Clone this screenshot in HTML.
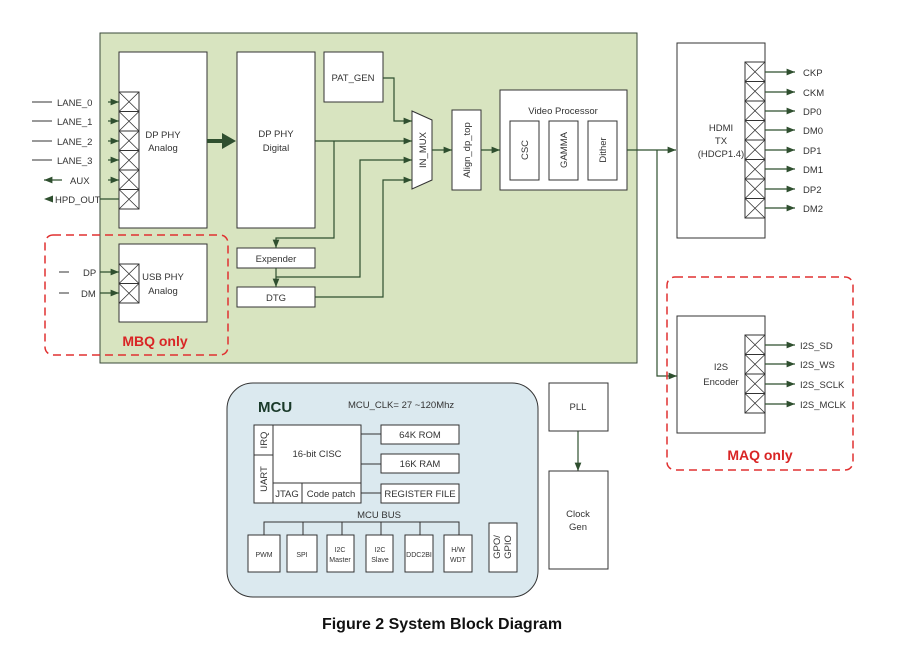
<!DOCTYPE html>
<html><head><meta charset="utf-8"><style>
html,body{margin:0;padding:0;background:#fff;}
svg{display:block;font-family:"Liberation Sans",sans-serif;}
</style></head><body>
<svg width="919" height="663" viewBox="0 0 919 663" xmlns="http://www.w3.org/2000/svg">
<defs>
<marker id="a" viewBox="0 0 10 10" refX="10" refY="5" markerWidth="7" markerHeight="7" orient="auto"><path d="M0,1 L10,5 L0,9 z" fill="#2f4f2f"/></marker>
<pattern id="x1" x="119" y="92" width="20" height="19.5" patternUnits="userSpaceOnUse"><rect width="20" height="19.5" fill="#fff" stroke="#333" stroke-width="1"/><path d="M0,0 L20,19.5 M20,0 L0,19.5" stroke="#333" stroke-width="0.8"/></pattern>
<pattern id="x2" x="119" y="264" width="20" height="19.5" patternUnits="userSpaceOnUse"><rect width="20" height="19.5" fill="#fff" stroke="#333" stroke-width="1"/><path d="M0,0 L20,19.5 M20,0 L0,19.5" stroke="#333" stroke-width="0.8"/></pattern>
<pattern id="x3" x="745" y="62" width="20" height="19.5" patternUnits="userSpaceOnUse"><rect width="20" height="19.5" fill="#fff" stroke="#333" stroke-width="1"/><path d="M0,0 L20,19.5 M20,0 L0,19.5" stroke="#333" stroke-width="0.8"/></pattern>
<pattern id="x4" x="745" y="335" width="20" height="19.5" patternUnits="userSpaceOnUse"><rect width="20" height="19.5" fill="#fff" stroke="#333" stroke-width="1"/><path d="M0,0 L20,19.5 M20,0 L0,19.5" stroke="#333" stroke-width="0.8"/></pattern>
</defs>
<g stroke="#333" stroke-width="1" fill="none">
<rect x="100" y="33" width="537" height="330" fill="#d8e4c0" stroke="#3a4a3a"/>
<rect x="119" y="52" width="88" height="176" fill="#fff"/>
<rect x="237" y="52" width="78" height="176" fill="#fff"/>
<rect x="324" y="52" width="59" height="50" fill="#fff"/>
<path d="M412,111 L432,120 L432,180 L412,189 Z" fill="#fff"/>
<rect x="452" y="110" width="29" height="80" fill="#fff"/>
<rect x="500" y="90" width="127" height="100" fill="#fff"/>
<rect x="510" y="121" width="29" height="59" fill="#fff"/>
<rect x="549" y="121" width="29" height="59" fill="#fff"/>
<rect x="588" y="121" width="29" height="59" fill="#fff"/>
<rect x="119" y="244" width="88" height="78" fill="#fff"/>
<rect x="237" y="248" width="78" height="20" fill="#fff"/>
<rect x="237" y="287" width="78" height="20" fill="#fff"/>
<rect x="677" y="43" width="88" height="195" fill="#fff"/>
<rect x="677" y="316" width="88" height="117" fill="#fff"/>
</g>
<rect x="119" y="92" width="20" height="117" fill="url(#x1)" stroke="#333"/>
<rect x="119" y="264" width="20" height="39" fill="url(#x2)" stroke="#333"/>
<rect x="745" y="62" width="20" height="156" fill="url(#x3)" stroke="#333"/>
<rect x="745" y="335" width="20" height="78" fill="url(#x4)" stroke="#333"/>
<g stroke="#2f4f2f" stroke-width="1.2" fill="none" marker-end="url(#a)">
<path d="M108,102 H119"/><path d="M108,121 H119"/><path d="M108,141 H119"/><path d="M108,160 H119"/><path d="M108,180 H119"/>
<path d="M62,180 H44"/>
<path d="M100,272 H119"/><path d="M100,293 H119"/>
<path d="M383,78 H394 V121 H412"/>
<path d="M315,141 H412"/>
<path d="M334,141 V238 H276 V248"/>
<path d="M276,268 V287"/>
<path d="M276,277 H360 V160 H412"/>
<path d="M315,297 H383 V180 H412"/>
<path d="M432,150 H452"/><path d="M481,150 H500"/>
<path d="M627,150 H676"/>
<path d="M657,150 V376 H677"/>
<path d="M765,72 H795"/><path d="M765,92 H795"/><path d="M765,111 H795"/><path d="M765,130 H795"/><path d="M765,150 H795"/><path d="M765,169 H795"/><path d="M765,189 H795"/><path d="M765,208 H795"/>
<path d="M765,345 H795"/><path d="M765,364 H795"/><path d="M765,384 H795"/><path d="M765,404 H795"/>
<path d="M578,431 V471"/>
</g>
<path d="M100,199 H119" stroke="#2f4f2f" stroke-width="1.2"/>
<path d="M44,199 L53,195.5 L53,202.5 Z" fill="#2f4f2f"/>
<path d="M207,141 H224" stroke="#2f4f2f" stroke-width="4"/>
<path d="M236,141 L222,133 L222,149 Z" fill="#2f4f2f"/>
<g stroke="#333" stroke-width="1">
<path d="M32,102 H52 M32,121 H52 M32,141 H52 M32,160 H52 M59,272 H69 M59,293 H69"/>
</g>
<g fill="none" stroke="#e03030" stroke-width="1.5" stroke-dasharray="8,5">
<rect x="45" y="235" width="183" height="120" rx="8"/>
<rect x="667" y="277" width="186" height="193" rx="8"/>
</g>
<g font-size="9.5" fill="#333">
<text x="57" y="106">LANE_0</text><text x="57" y="125">LANE_1</text><text x="57" y="145">LANE_2</text><text x="57" y="164">LANE_3</text>
<text x="70" y="184">AUX</text><text x="55" y="203">HPD_OUT</text>
<text x="83" y="276">DP</text><text x="81" y="297">DM</text>
<g text-anchor="middle">
<text x="163" y="138">DP PHY</text><text x="163" y="151">Analog</text>
<text x="276" y="137">DP PHY</text><text x="276" y="151">Digital</text>
<text x="353" y="81">PAT_GEN</text>
<text x="163" y="280">USB PHY</text><text x="163" y="294">Analog</text>
<text x="276" y="262">Expender</text><text x="276" y="301">DTG</text>
<text x="563" y="114">Video Processor</text>
<text x="721" y="131">HDMI</text><text x="721" y="144">TX</text><text x="721" y="157">(HDCP1.4)</text>
<text x="721" y="370">I2S</text><text x="721" y="385">Encoder</text>
</g>
<text transform="translate(426,150) rotate(-90)" text-anchor="middle">IN_MUX</text>
<text transform="translate(470,150) rotate(-90)" text-anchor="middle">Align_dp_top</text>
<text transform="translate(528,150) rotate(-90)" text-anchor="middle">CSC</text>
<text transform="translate(567,150) rotate(-90)" text-anchor="middle">GAMMA</text>
<text transform="translate(606,150) rotate(-90)" text-anchor="middle">Dither</text>
<text x="803" y="76">CKP</text><text x="803" y="96">CKM</text><text x="803" y="115">DP0</text><text x="803" y="134">DM0</text>
<text x="803" y="154">DP1</text><text x="803" y="173">DM1</text><text x="803" y="193">DP2</text><text x="803" y="212">DM2</text>
<text x="800" y="349">I2S_SD</text><text x="800" y="368">I2S_WS</text><text x="800" y="388">I2S_SCLK</text><text x="800" y="408">I2S_MCLK</text>
</g>
<text x="155" y="346" text-anchor="middle" font-size="14" font-weight="bold" fill="#d92525">MBQ only</text>
<text x="760" y="460" text-anchor="middle" font-size="14" font-weight="bold" fill="#d92525">MAQ only</text>
<rect x="227" y="383" width="311" height="214" rx="26" fill="#dbe9ef" stroke="#333"/>
<text x="258" y="412" font-size="15" font-weight="bold" fill="#1a3a2a">MCU</text>
<text x="348" y="408" font-size="9.5" fill="#333">MCU_CLK= 27 ~120Mhz</text>
<g stroke="#333" fill="#fff">
<rect x="254" y="425" width="107" height="78"/>
<rect x="254" y="425" width="19" height="30"/><rect x="254" y="455" width="19" height="48"/>
<rect x="273" y="483" width="29" height="20"/><rect x="302" y="483" width="59" height="20"/>
<rect x="381" y="425" width="78" height="19"/><rect x="381" y="454" width="78" height="19"/><rect x="381" y="484" width="78" height="19"/>
<path d="M361,434 H381 M361,464 H381 M361,493 H381" fill="none"/>
<path d="M264,535 V522 H459 V535 M303,522 V535 M342,522 V535 M381,522 V535 M420,522 V535" fill="none"/>
<rect x="248" y="535" width="32" height="37"/><rect x="287" y="535" width="30" height="37"/><rect x="327" y="535" width="27" height="37"/>
<rect x="366" y="535" width="27" height="37"/><rect x="405" y="535" width="28" height="37"/><rect x="444" y="535" width="28" height="37"/>
<rect x="489" y="523" width="28" height="49"/>
<rect x="549" y="383" width="59" height="48"/><rect x="549" y="471" width="59" height="98"/>
</g>
<g font-size="9.5" fill="#333" text-anchor="middle">
<text x="317" y="457">16-bit CISC</text>
<text x="287" y="497">JTAG</text><text x="331" y="497">Code patch</text>
<text x="420" y="438">64K ROM</text><text x="420" y="467">16K RAM</text><text x="420" y="497">REGISTER FILE</text>
<text x="379" y="518">MCU BUS</text>
<text transform="translate(267,440) rotate(-90)">IRQ</text>
<text transform="translate(267,479) rotate(-90)">UART</text>
<text transform="translate(500,547) rotate(-90)">GPO/</text>
<text transform="translate(511,547) rotate(-90)">GPIO</text>
<text x="578" y="410">PLL</text>
<text x="578" y="517">Clock</text><text x="578" y="530">Gen</text>
<g font-size="7">
<text x="264" y="557">PWM</text><text x="302" y="557">SPI</text>
<text x="340" y="552">I2C</text><text x="340" y="562">Master</text>
<text x="380" y="552">I2C</text><text x="380" y="562">Slave</text>
<text x="419" y="557">DDC2BI</text>
<text x="458" y="552">H/W</text><text x="458" y="562">WDT</text>
</g>
</g>
<text x="442" y="629" text-anchor="middle" font-size="16" font-weight="bold" fill="#111">Figure 2 System Block Diagram</text>
</svg>
</body></html>
